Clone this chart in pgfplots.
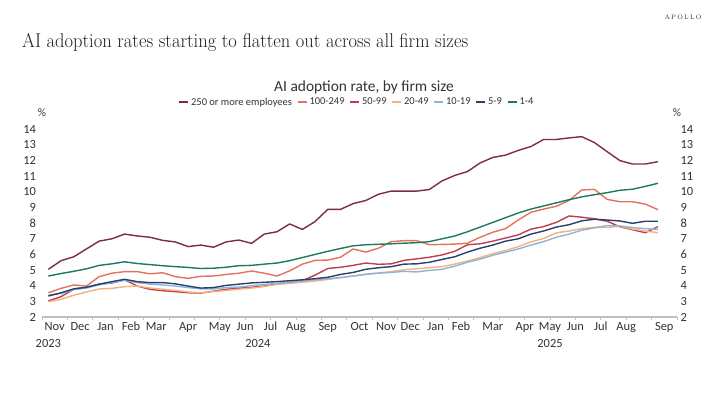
\documentclass[border=0pt]{standalone}
\usepackage{pgfplots}
\usepackage{pgfplotstable}
\pgfplotsset{compat=1.18}
\usepackage{fontspec}
\usepackage{graphicx}
\setsansfont{Carlito}

\definecolor{cA}{HTML}{7B2D45}
\definecolor{cB}{HTML}{E3735E}
\definecolor{cC}{HTML}{BF3F4F}
\definecolor{cD}{HTML}{F3B27E}
\definecolor{cE}{HTML}{8DB4DD}
\definecolor{cF}{HTML}{2B3F6C}
\definecolor{cG}{HTML}{1B7B5D}
\definecolor{axgray}{HTML}{BFBFBF}
\definecolor{txt}{HTML}{333333}

% biweekly points, Nov 2023 to Sep 2025 (index 0..48)
\pgfplotstableread{
i  s250  s100  s50   s20   s10   s5    s1
0  5.05  3.55  3.03  2.98  3.40  3.34  4.62
1  5.60  3.83  3.30  3.13  3.50  3.55  4.78
2  5.85  4.05  3.78  3.39  3.75  3.80  4.92
3  6.35  3.98  3.90  3.60  3.85  3.90  5.08
4  6.85  4.58  4.10  3.79  4.05  4.10  5.30
5  7.00  4.80  4.17  3.83  4.20  4.26  5.40
6  7.30  4.90  4.38  3.94  4.35  4.41  5.53
7  7.18  4.90  3.98  3.98  4.20  4.26  5.42
8  7.10  4.76  3.77  3.85  4.10  4.20  5.35
9  6.90  4.83  3.68  3.78  4.05  4.20  5.28
10 6.80  4.58  3.62  3.70  3.98  4.12  5.22
11 6.50  4.47  3.55  3.60  3.88  3.98  5.17
12 6.60  4.60  3.53  3.55  3.80  3.85  5.10
13 6.46  4.62  3.65  3.62  3.80  3.88  5.12
14 6.80  4.72  3.77  3.70  3.88  4.02  5.18
15 6.92  4.80  3.84  3.78  3.92  4.10  5.28
16 6.71  4.94  3.90  3.85  4.00  4.18  5.30
17 7.30  4.80  3.98  3.95  4.08  4.22  5.38
18 7.45  4.62  4.12  4.08  4.15  4.26  5.45
19 7.95  4.95  4.22  4.15  4.22  4.32  5.60
20 7.60  5.38  4.32  4.22  4.30  4.38  5.80
21 8.10  5.62  4.68  4.30  4.38  4.45  6.00
22 8.88  5.64  5.10  4.40  4.45  4.54  6.20
23 8.88  5.82  5.18  4.52  4.52  4.72  6.38
24 9.25  6.35  5.30  4.62  4.62  4.85  6.55
25 9.45  6.15  5.45  4.75  4.72  5.05  6.62
26 9.85  6.40  5.37  4.82  4.80  5.15  6.65
27 10.05 6.82  5.40  4.90  4.85  5.22  6.68
28 10.05 6.88  5.62  5.02  4.92  5.38  6.72
29 10.05 6.88  5.72  5.08  4.88  5.40  6.75
30 10.15 6.62  5.82  5.15  4.98  5.50  6.82
31 10.70 6.64  5.97  5.22  5.05  5.68  7.00
32 11.05 6.66  6.20  5.38  5.25  5.85  7.18
33 11.30 6.72  6.62  5.58  5.50  6.15  7.45
34 11.85 7.10  6.68  5.80  5.70  6.40  7.75
35 12.20 7.42  6.85  6.05  5.95  6.60  8.05
36 12.35 7.65  7.05  6.25  6.15  6.85  8.35
37 12.65 8.20  7.25  6.50  6.35  7.00  8.65
38 12.90 8.70  7.62  6.80  6.60  7.30  8.90
39 13.35 8.90  7.78  7.02  6.82  7.50  9.10
40 13.35 9.08  8.05  7.38  7.10  7.75  9.30
41 13.45 9.45  8.46  7.50  7.30  7.90  9.50
42 13.53 10.12 8.38  7.65  7.55  8.15  9.68
43 13.15 10.16 8.28  7.73  7.70  8.25  9.82
44 12.57 9.52  8.12  7.73  7.85  8.20  9.95
45 12.00 9.37  7.77  7.80  7.82  8.14  10.10
46 11.78 9.37  7.58  7.62  7.72  7.99  10.17
47 11.78 9.22  7.39  7.50  7.65  8.12  10.35
48 11.93 8.86  7.77  7.39  7.60  8.12  10.55
}\adoption

\begin{document}
\begin{tikzpicture}[x=1bp,y=1bp]
\path[use as bounding box, fill=white] (0,0) rectangle (720,405);

% headline
\node[anchor=base west, inner sep=0, text=black!88] at (22,358)
  {\scalebox{0.93}[1]{\fontsize{20}{24}\selectfont AI adoption rates starting to flatten out across all firm sizes}};
\node[anchor=center, inner sep=0, text=black!80] at (683,388)
  {\fontsize{6.5}{8}\selectfont A\kern1.2pt P\kern1.2pt O\kern1.2pt L\kern1.2pt L\kern1.2pt O};

% chart title
\node[anchor=center, inner sep=0, text=txt] at (364,318)
  {\sffamily\fontsize{15.5}{18}\selectfont AI adoption rate, by firm size};
\node[anchor=center, inner sep=0, text=txt] at (42,292) {\sffamily\fontsize{11.5}{13}\selectfont\%};
\node[anchor=center, inner sep=0, text=txt] at (677,292) {\sffamily\fontsize{11.5}{13}\selectfont\%};

\begin{axis}[
  at={(42bp,88bp)}, anchor=south west,
  scale only axis, width=635bp, height=187.7bp,
  xmin=-0.5, xmax=49.5, ymin=2, ymax=14,
  clip=false,
  axis x line*=bottom, axis y line*=left,
  x axis line style={draw=axgray, line width=1.3bp, -},
  y axis line style={draw=none},
  xtick={-0.5,1.5,...,49.5}, xticklabels={},
  xtick style={draw=axgray, line width=0.8bp},
  tick align=outside, major tick length=2.5bp,
  extra x ticks={0.5,2.5,4.5,6.5,8.5,11,13.5,15.5,17.5,19.5,22,24.5,26.6,28.5,30.5,32.5,35,37.5,39.5,41.5,43.5,45.5,48.5},
  extra x tick labels={Nov,Dec,Jan,Feb,Mar,Apr,May,Jun,Jul,Aug,Sep,Oct,Nov,Dec,Jan,Feb,Mar,Apr,May,Jun,Jul,Aug,Sep},
  extra x tick style={major tick length=0pt},
  ytick={2,3,...,14},
  ytick style={draw=none},
  /pgf/number format/assume math mode=true,
  ticklabel style={font=\sffamily\fontsize{12.5}{14}\selectfont, text=txt},
  xticklabel style={yshift=-1.5bp},
  legend columns=7,
  legend style={at={(0.496,1.144)}, anchor=center, draw=none, fill=none,
    font=\sffamily\fontsize{10.5}{12}\selectfont, text=txt, inner sep=0pt,
    /tikz/every even column/.append style={column sep=3bp}},
  legend image code/.code={\draw[#1, line width=1.6bp] (0bp,0bp) -- (9bp,0bp);},
  every axis plot/.append style={line width=1.4bp, line join=round, no markers},
]
\addplot[cA] table[x=i, y=s250] {\adoption};
\addlegendentry{250 or more employees}
\addplot[cB] table[x=i, y=s100] {\adoption};
\addlegendentry{100-249}
\addplot[cC] table[x=i, y=s50] {\adoption};
\addlegendentry{50-99}
\addplot[cD] table[x=i, y=s20] {\adoption};
\addlegendentry{20-49}
\addplot[cE] table[x=i, y=s10] {\adoption};
\addlegendentry{10-19}
\addplot[cF] table[x=i, y=s5] {\adoption};
\addlegendentry{5-9}
\addplot[cG] table[x=i, y=s1] {\adoption};
\addlegendentry{1-4}

\node[font=\sffamily\fontsize{12.5}{14}\selectfont, text=txt] at (axis cs:0,0.3) {2023};
\node[font=\sffamily\fontsize{12.5}{14}\selectfont, text=txt] at (axis cs:16.5,0.3) {2024};
\node[font=\sffamily\fontsize{12.5}{14}\selectfont, text=txt] at (axis cs:39.5,0.3) {2025};
\end{axis}

\begin{axis}[
  at={(42bp,88bp)}, anchor=south west,
  scale only axis, width=635bp, height=187.7bp,
  xmin=-0.5, xmax=49.5, ymin=2, ymax=14,
  axis x line=none, axis y line*=right,
  y axis line style={draw=none},
  xtick=\empty, ytick={2,3,...,14},
  ytick style={draw=none},
  /pgf/number format/assume math mode=true,
  ticklabel style={font=\sffamily\fontsize{12.5}{14}\selectfont, text=txt},
]
\addplot[draw=none] coordinates {(0,2)};
\end{axis}
\end{tikzpicture}
\end{document}
